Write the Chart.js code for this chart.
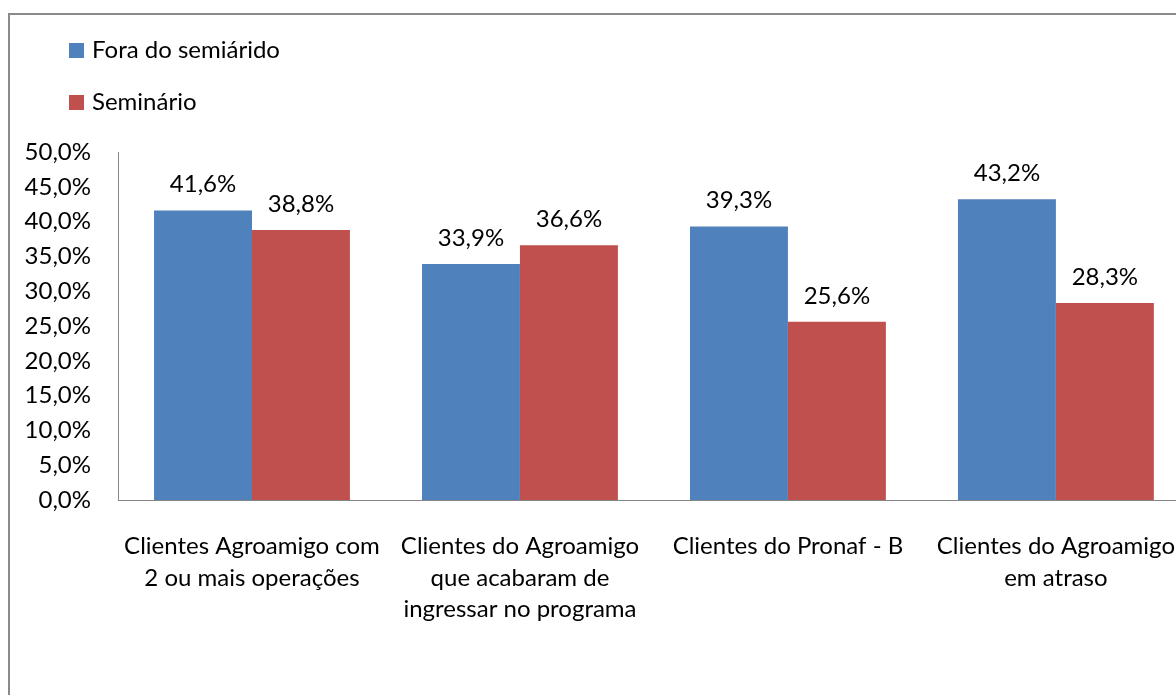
<!DOCTYPE html>
<html>
<head>
<meta charset="utf-8">
<script src="https://cdn.jsdelivr.net/npm/chart.js@4.4.1/dist/chart.umd.min.js"></script>
<title>Agroamigo - semiárido</title>
<style>
  body { margin: 0; overflow: hidden; background: #fff; }
  #frame { position: absolute; left: 8px; top: 13px; width: 1400px; height: 900px;
           border-top: 2px solid #8a8a8a; border-left: 2px solid #8a8a8a; }
  #wrap { position: absolute; left: 0; top: 0; }
</style>
</head>
<body>
<div id="frame"></div>
<div id="wrap"><canvas id="myChart" width="1206" height="695"></canvas></div>

<script>
// categorias (eixo x)
var categorias = [
  ['Clientes Agroamigo com', '2 ou mais operações'],
  ['Clientes do Agroamigo', 'que acabaram de', 'ingressar no programa'],
  ['Clientes do Pronaf - B'],
  ['Clientes do Agroamigo', 'em atraso']
];
// séries
var foraSemiarido = [41.6, 33.9, 39.3, 43.2];
var semiarido = [38.8, 36.6, 25.6, 28.3];
var nomesSeries = ['Fora do semiárido', 'Seminário'];

var fonte = { family: 'Lato', size: 24 };

function pct(v) {
  return v.toFixed(1).replace('.', ',') + '%';
}

// legenda vertical, como no Excel
var legendaPlugin = {
  id: 'legendaVertical',
  afterDraw: function(chart) {
    var ctx = chart.ctx;
    ctx.save();
    ctx.font = fonte.size + 'px ' + fonte.family;
    ctx.textBaseline = 'middle';
    ctx.textAlign = 'left';
    chart.data.datasets.forEach(function(ds, i) {
      var y = 50 + i * 52;
      ctx.fillStyle = ds.backgroundColor;
      ctx.fillRect(69, y - 7, 15, 15);
      ctx.fillStyle = '#000';
      ctx.fillText(ds.label, 92, y);
    });
    ctx.restore();
  }
};

// rótulos de valor em cima das barras
var rotulosPlugin = {
  id: 'rotulos',
  afterDatasetsDraw: function(chart) {
    var ctx = chart.ctx;
    ctx.save();
    ctx.font = fonte.size + 'px ' + fonte.family;
    ctx.fillStyle = '#000';
    ctx.textAlign = 'center';
    ctx.textBaseline = 'middle';
    chart.data.datasets.forEach(function(ds, i) {
      chart.getDatasetMeta(i).data.forEach(function(bar, j) {
        ctx.fillText(pct(ds.data[j]), bar.x, bar.y - 26);
      });
    });
    ctx.restore();
  }
};

var data = {
  labels: categorias,
  datasets: [{
    label: nomesSeries[0],
    data: foraSemiarido,
    backgroundColor: '#4F81BD'
  }, {
    label: nomesSeries[1],
    data: semiarido,
    backgroundColor: '#C0504D'
  }]
};

var config = {
  type: 'bar',
  data: data,
  options: {
    responsive: false,
    animation: false,
    categoryPercentage: 0.731,
    barPercentage: 1,
    layout: { padding: { top: 152, right: 0, left: 0, bottom: 0 } },
    plugins: {
      legend: { display: false },
      tooltip: { enabled: false }
    },
    scales: {
      x: {
        grid: { display: false, drawTicks: false },
        border: { display: true, color: '#868686', width: 1 },
        ticks: { color: '#000', font: { family: 'Lato', size: 24, lineHeight: 1.3 }, padding: 31, maxRotation: 0, autoSkip: false },
        afterFit: function(s) { s.height = 195; }
      },
      y: {
        min: 0,
        max: 50,
        grid: { display: false, drawTicks: false },
        border: { display: true, color: '#868686', width: 1 },
        ticks: {
          stepSize: 5,
          color: '#000',
          font: fonte,
          padding: 27,
          callback: function(v) { return pct(v); }
        },
        afterFit: function(s) { s.width = 118; }
      }
    }
  },
  plugins: [legendaPlugin, rotulosPlugin]
};

var myChart = new Chart(document.getElementById('myChart'), config);
</script>
</body>
</html>
